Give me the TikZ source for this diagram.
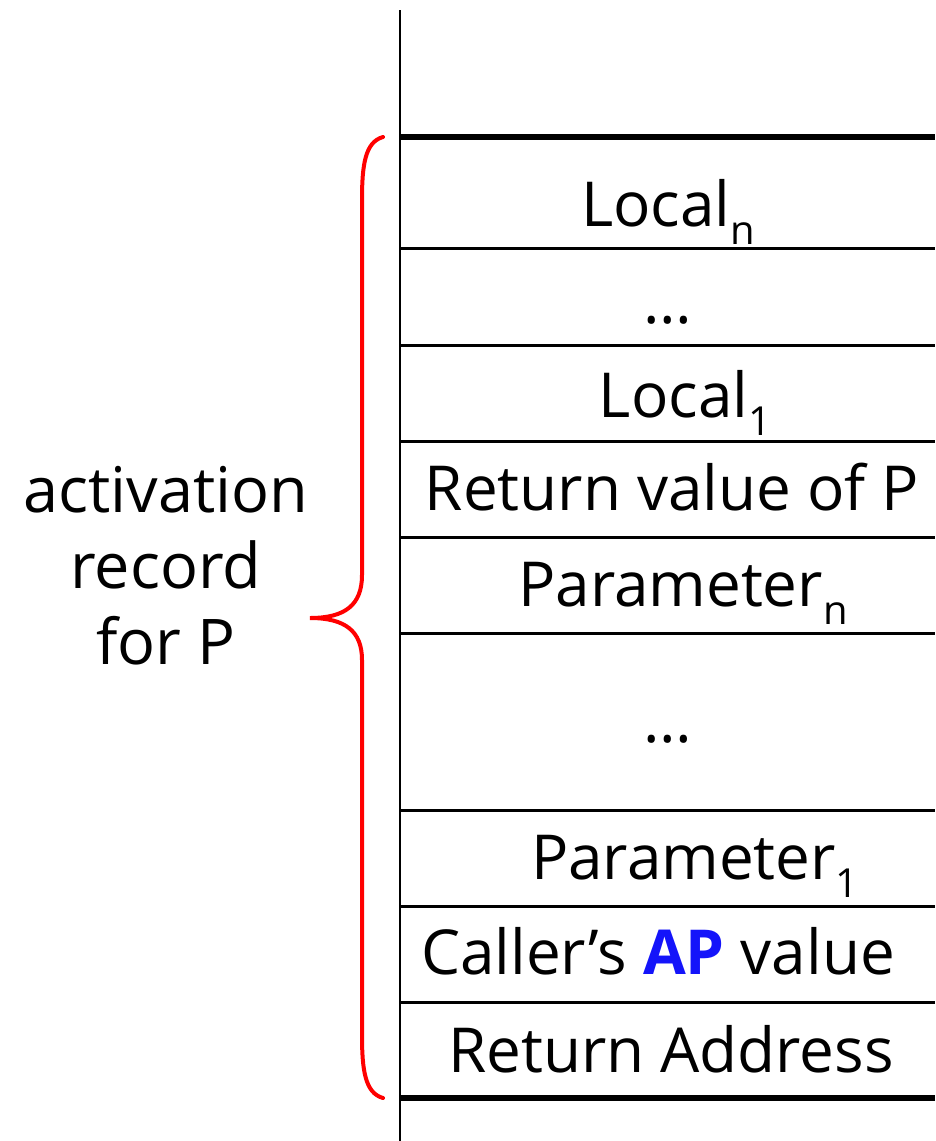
\documentclass[tikz,border=0pt]{standalone}
\usepackage{fontspec}
\setmainfont{Open Sans}
\definecolor{apblue}{RGB}{20,20,250}
\definecolor{bracered}{RGB}{255,0,0}
\newcommand{\lowsub}[1]{\raisebox{-0.3em}{\fontsize{40}{46}\selectfont #1}}
\begin{document}
\begin{tikzpicture}[x=1pt,y=-1pt,
  thin rule/.style={line width=3pt},
  thick rule/.style={line width=6.5pt},
  cell/.style={font=\fontsize{62}{75}\selectfont, anchor=base, inner sep=0pt},
  side/.style={font=\fontsize{63}{76}\selectfont, anchor=base, inner sep=0pt}]
\useasboundingbox (0,0) rectangle (935,1141);
% stack axis
\coordinate (axtop) at (400,10);
\coordinate (axbot) at (400,1141);
\draw[line width=2.5pt] (axtop) -- (axbot);
% rules
\draw[thick rule] (400,137) -- (935,137);
\foreach \yy in {248,345,441,537,633,810,906,1002}
  \draw[thin rule] (400,\yy) -- (935,\yy);
\draw[thick rule] (400,1098) -- (935,1098);
% cell texts
\node[cell] (localn) at (668,226) {Local\lowsub{n}};
\node[cell] (dots1) at (668,323) {…};
\node[cell] (local1) at (685,417) {Local\lowsub{1}};
\node[cell] (retval) at (672,510) {Return value of P};
\node[cell] (paramn) at (683,606) {Parameter\lowsub{n}};
\node[cell] (dots2) at (668,742) {…};
\node[cell] (param1) at (695,879) {Parameter\lowsub{1}};
\node[cell] (caller) at (658,974) {Caller’s \textcolor{apblue}{\textbf{AP}} value};
\node[cell] (retaddr) at (671,1072) {Return Address};
% brace
\draw[bracered, line width=4pt, line cap=round]
  (383,137) .. controls (365,142) and (362,165) .. (362,200)
  -- (362,575) .. controls (362,605) and (345,618) .. (310,618)
  .. controls (345,618) and (362,631) .. (362,660)
  -- (362,1035) .. controls (362,1070) and (365,1093) .. (383,1098);
% label
\node[side] (lab1) at (166,512) {activation};
\node[side] (lab2) at (166,588) {record};
\node[side] (lab3) at (166,664) {for P};
\end{tikzpicture}
\end{document}
